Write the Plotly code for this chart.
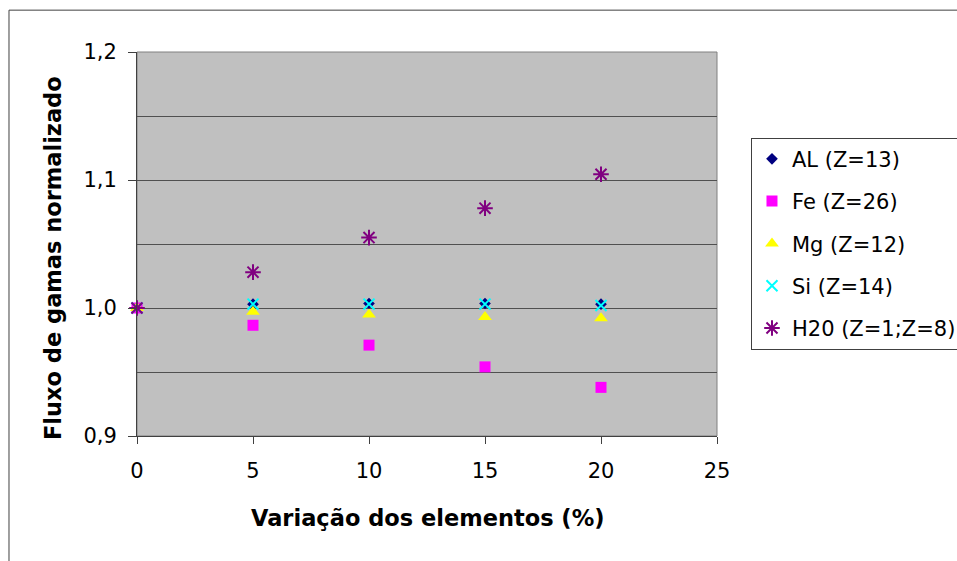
import plotly.graph_objects as go

# Variação percentual de cada elemento
variacao = [0, 5, 10, 15, 20]

# Fluxo de gamas normalizado por elemento
al_z13 = [1.000, 1.003, 1.0035, 1.0035, 1.003]
fe_z26 = [1.000, 0.9865, 0.971, 0.954, 0.938]
mg_z12 = [1.000, 0.997, 0.995, 0.993, 0.992]
si_z14 = [1.000, 1.003, 1.003, 1.003, 1.002]
h2o = [1.000, 1.028, 1.055, 1.078, 1.1045]

series_names = ["AL (Z=13)", "Fe (Z=26)", "Mg (Z=12)", "Si (Z=14)", "H20 (Z=1;Z=8)"]

FONT = "DejaVu Sans, Arial, sans-serif"
AXIS_DARK = "#404040"

fig = go.Figure()

fig.add_trace(go.Scatter(
    x=variacao, y=al_z13, mode="markers", name=series_names[0], legendgroup="a",
    cliponaxis=False,
    marker=dict(symbol="diamond", size=9, color="#000080", line=dict(width=0)),
))
fig.add_trace(go.Scatter(
    x=variacao, y=fe_z26, mode="markers", name=series_names[1], legendgroup="b",
    cliponaxis=False,
    marker=dict(symbol="square", size=11, color="#FF00FF", line=dict(width=0)),
))
fig.add_trace(go.Scatter(
    x=variacao, y=mg_z12, mode="markers", name=series_names[2], legendgroup="c",
    cliponaxis=False,
    marker=dict(symbol="triangle-up", size=12, color="#FFFF00", line=dict(width=0)),
))
fig.add_trace(go.Scatter(
    x=variacao, y=si_z14, mode="markers", name=series_names[3], legendgroup="d",
    cliponaxis=False,
    marker=dict(symbol="x-thin-open", size=11, color="#00FFFF",
                line=dict(width=2, color="#00FFFF")),
))
fig.add_trace(go.Scatter(
    x=variacao, y=h2o, mode="markers", name=series_names[4], legendgroup="e",
    cliponaxis=False,
    marker=dict(symbol="asterisk-open", size=13, color="#800080",
                line=dict(width=2, color="#800080")),
))

# Plot area frame (gray) and outer chart frame
fig.add_shape(type="rect", xref="paper", yref="paper", x0=0, x1=1, y0=0, y1=1,
              line=dict(color="#808080", width=1), layer="below")
fig.add_shape(type="rect", xref="paper", yref="paper",
              x0=-0.2207, x1=1.6, y0=-0.5, y1=1.109,
              line=dict(color=AXIS_DARK, width=1))

# Axis titles
fig.add_annotation(text="<b>Variação dos elementos (%)</b>", xref="paper", yref="paper",
                   x=0.5, y=-0.2135, xanchor="center", yanchor="middle", showarrow=False,
                   font=dict(family=FONT, size=22.5, color="#000000"))
fig.add_annotation(text="<b>Fluxo de gamas normalizado</b>", xref="paper", yref="paper",
                   x=-0.1448, y=0.4635, xanchor="center", yanchor="middle", showarrow=False,
                   textangle=-90, font=dict(family=FONT, size=22.5, color="#000000"))

fig.update_layout(
    width=957, height=561,
    margin=dict(l=137, r=240, t=52, b=125, autoexpand=False),
    paper_bgcolor="#FFFFFF",
    plot_bgcolor="#C0C0C0",
    separators=",.",
    font=dict(family=FONT, size=21, color="#000000"),
    showlegend=True,
    legend=dict(
        x=1.0586, y=0.777, xanchor="left", yanchor="top",
        bgcolor="#FFFFFF", bordercolor=AXIS_DARK, borderwidth=1,
        font=dict(family=FONT, size=21, color="#000000"),
        tracegroupgap=12, itemwidth=30,
    ),
    xaxis=dict(
        range=[0, 25], tickvals=[0, 5, 10, 15, 20, 25],
        showgrid=False, zeroline=False,
        showline=True, linecolor=AXIS_DARK, linewidth=1,
        ticks="outside", ticklen=7, tickcolor=AXIS_DARK, tickwidth=1,
        tickfont=dict(family=FONT, size=21), ticklabelstandoff=9,
    ),
    yaxis=dict(
        range=[0.9, 1.2], tickvals=[0.9, 1.0, 1.1, 1.2], tickformat=".1f",
        showgrid=True, gridcolor="#505050", gridwidth=1,
        minor=dict(dtick=0.05, tick0=0.9, showgrid=True, gridcolor="#505050", gridwidth=1, ticks=""),
        zeroline=False,
        showline=True, linecolor=AXIS_DARK, linewidth=1,
        ticks="outside", ticklen=8, tickcolor=AXIS_DARK, tickwidth=1,
        tickfont=dict(family=FONT, size=21), ticklabelstandoff=7,
    ),
)

fig.write_html("out.html")
